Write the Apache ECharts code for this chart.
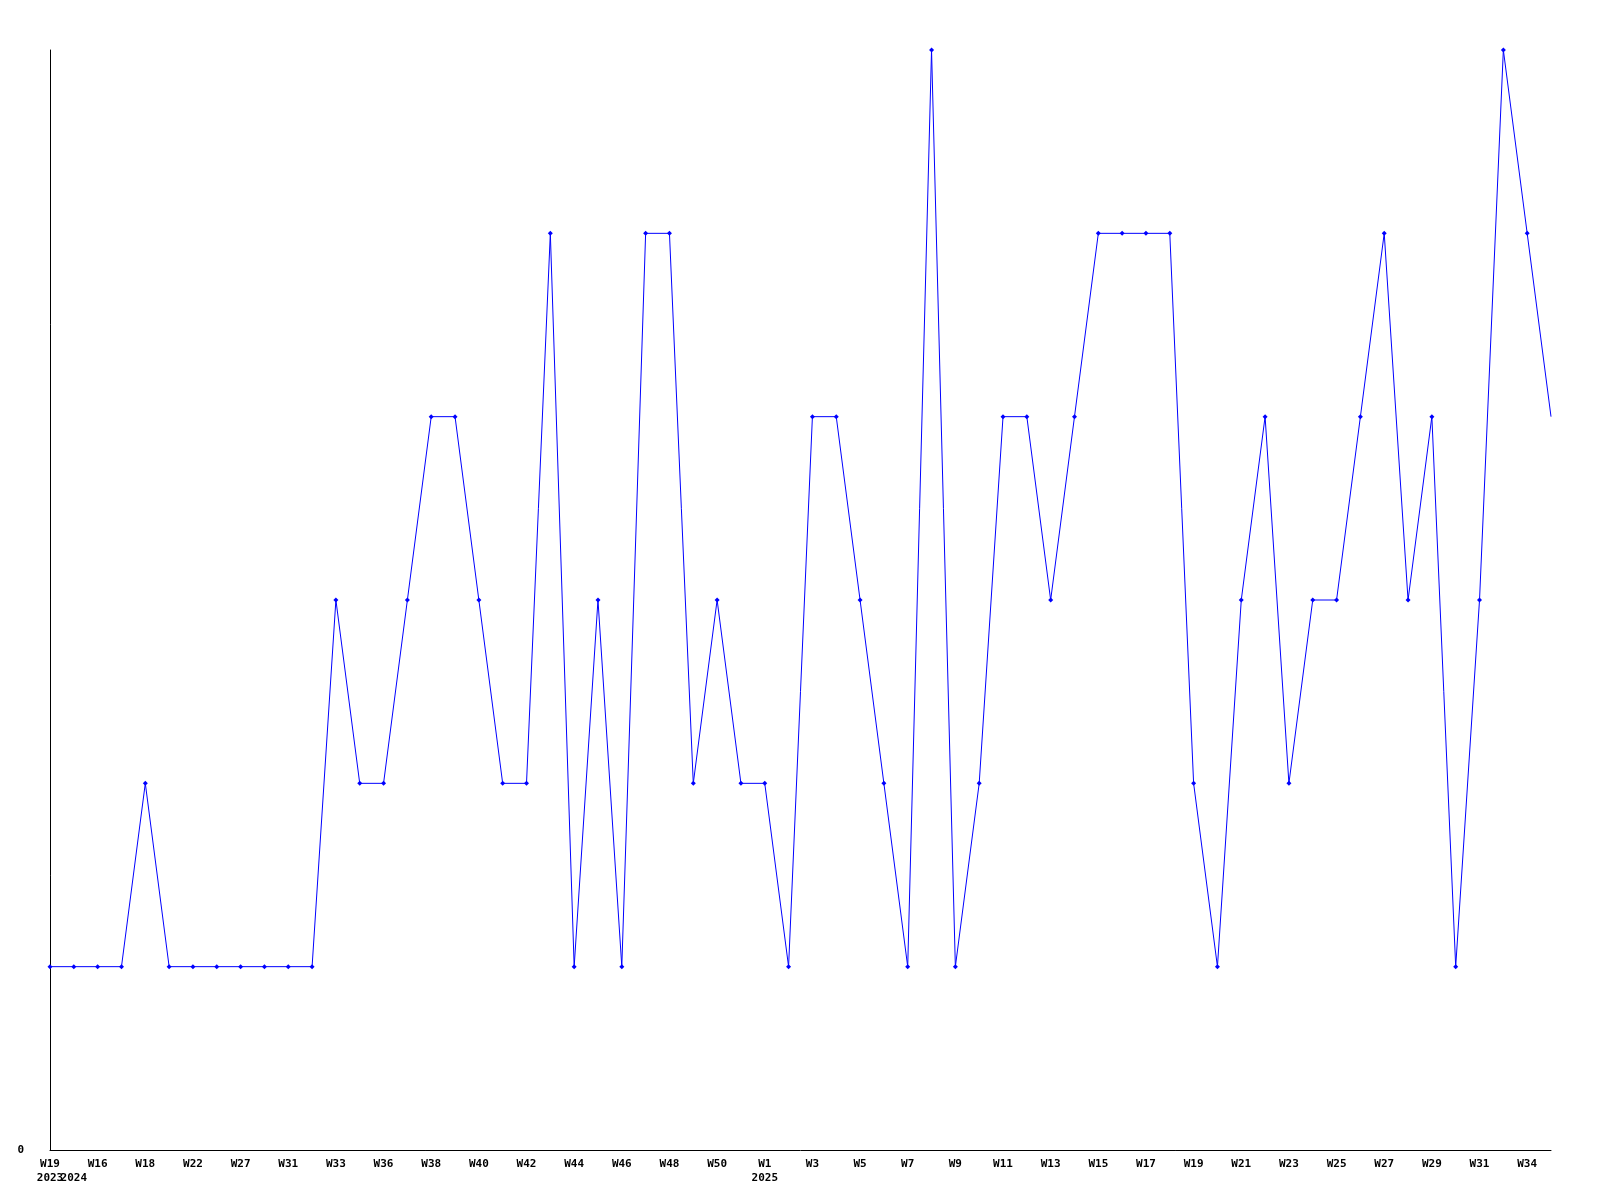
<!DOCTYPE html>
<html>
<head>
<meta charset="utf-8">
<script src="https://cdn.jsdelivr.net/npm/echarts@6/dist/echarts.min.js"></script>
<style>html,body{margin:0;padding:0;background:#fff}#c{width:1600px;height:1200px}</style>
</head>
<body>
<div id="c"></div>
<script>
const weeks = ["W19","W15","W16","W17","W18","W20","W22","W24","W27","W29","W31","W32","W33","W35","W36","W37","W38","W39","W40","W41","W42","W43","W44","W45","W46","W47","W48","W49","W50","W51","W1","W2","W3","W4","W5","W6","W7","W8","W9","W10","W11","W12","W13","W14","W15","W16","W17","W18","W19","W20","W21","W22","W23","W24","W25","W26","W27","W28","W29","W30","W31","W33","W34","W35"];
const years = ["2023","2024","","","","","","","","","","","","","","","","","","","","","","","","","","","","","2025","","","","","","","","","","","","","","","","","","","","","","","","","","","","","","","","",""];
const values = [1,1,1,1,2,1,1,1,1,1,1,1,3,2,2,3,4,4,3,2,2,5,1,3,1,5,5,2,3,2,2,1,4,4,3,2,1,6,1,2,4,4,3,4,5,5,5,5,2,1,3,4,2,3,3,4,5,3,4,1,3,6,5,4];
const yTicks = ["0"];

const cats = weeks.map((w, i) => w + "|" + years[i]);
const seriesData = values.map((v, i) => i === values.length - 1 ? {value: v, symbol: 'none'} : v);
const chart = echarts.init(document.getElementById('c'));
chart.setOption({
  animation: false,
  backgroundColor: '#ffffff',
  grid: {left: 50, right: 49, top: 50, bottom: 50, containLabel: false},
  xAxis: {
    type: 'category',
    data: cats,
    boundaryGap: false,
    axisLine: {lineStyle: {color: '#000', width: 1}},
    axisTick: {show: false},
    splitLine: {show: false},
    axisLabel: {
      interval: 0,
      margin: 7,
      color: '#000',
      fontFamily: 'DejaVu Sans Mono',
      fontWeight: 'bold',
      fontSize: 11,
      lineHeight: 14,
      formatter: function (v, i) {
        const parts = v.split('|');
        const w = (i % 2 === 0) ? parts[0] : '';
        return w + '\n' + parts[1];
      }
    }
  },
  yAxis: {
    type: 'value',
    min: 0,
    max: 6,
    interval: 1,
    axisLine: {show: true, lineStyle: {color: '#000', width: 1}},
    axisTick: {show: false},
    splitLine: {show: false},
    axisLabel: {
      margin: 26,
      color: '#000',
      fontFamily: 'DejaVu Sans Mono',
      fontWeight: 'bold',
      fontSize: 11,
      formatter: function (v) { return yTicks.indexOf(String(v)) >= 0 ? String(v) : ''; }
    }
  },
  series: [{
    type: 'line',
    data: seriesData,
    symbol: 'diamond',
    symbolSize: 5,
    showAllSymbol: true,
    lineStyle: {color: '#0000ff', width: 1},
    itemStyle: {color: '#0000ff'}
  }]
});
</script>
</body>
</html>
